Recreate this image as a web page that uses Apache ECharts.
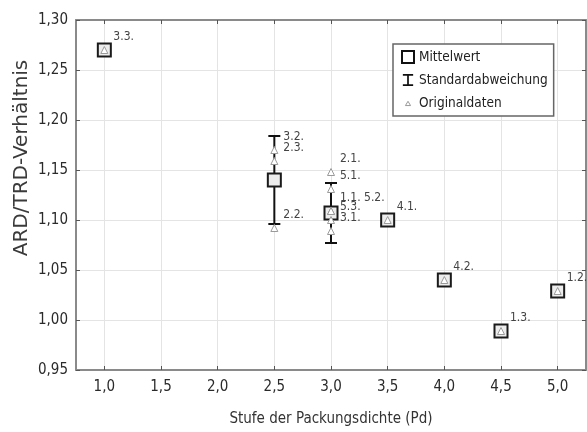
<!DOCTYPE html>
<html lang="de">
<head>
<meta charset="UTF-8">
<title>ARD/TRD-Verhältnis</title>
<script src="https://cdn.jsdelivr.net/npm/echarts@6/dist/echarts.min.js"></script>
<style>
  html, body { margin: 0; padding: 0; background: #fff; }
  #chart { width: 587px; height: 432px; }
</style>
</head>
<body>
<div id="chart"></div>
<script>
// Mittelwerte je Stufe
const meanX = [1.0, 2.5, 3.0, 3.5, 4.0, 4.5, 5.0];
const meanY = [1.27, 1.14, 1.107, 1.10, 1.04, 0.989, 1.029];

// Standardabweichung (nur Stufen mit mehreren Werten)
const sdX = [2.5, 3.0];
const sdLow = [1.096, 1.077];
const sdHigh = [1.184, 1.137];

// Originaldaten mit Bezeichnung
const origNames = ['3.3.', '3.2.', '2.3.', '2.2.', '2.1.', '5.1.', '1.1.', '5.2.', '5.3.', '3.1.', '4.1.', '4.2.', '1.3.', '1.2.'];
const origX = [1.0, 2.5, 2.5, 2.5, 3.0, 3.0, 3.0, 3.0, 3.0, 3.0, 3.5, 4.0, 4.5, 5.0];
const origY = [1.27, 1.17, 1.159, 1.092, 1.148, 1.131, 1.109, 1.109, 1.10, 1.089, 1.10, 1.04, 0.989, 1.029];

// Achsenbeschriftung
const xTicks = [1.0, 1.5, 2.0, 2.5, 3.0, 3.5, 4.0, 4.5, 5.0];

const FONT = '"DejaVu Sans Condensed", "Liberation Sans Narrow", "DejaVu Sans", sans-serif';
const comma = (v, d) => v.toFixed(d).replace('.', ',');

// gleiche Punkte bekommen eine gemeinsame Beschriftung
const seen = {};
const origData = origX.map((x, i) => {
  const key = x + '_' + origY[i];
  let label = origNames[i];
  if (seen[key] !== undefined) {
    seen[key].text += ' ' + origNames[i];
    label = '';
  }
  const item = { value: [x, origY[i]], text: label };
  if (label) seen[key] = item;
  return item;
});

const chart = echarts.init(document.getElementById('chart'));

const gridLine = { show: true, lineStyle: { color: '#e4e4e4', width: 1 } };
const axisLine = { show: true, lineStyle: { color: '#8a8a8a', width: 2 } };
const tickIn = { show: true, inside: true, length: 4, lineStyle: { color: '#555', width: 1 } };

chart.setOption({
  animation: false,
  backgroundColor: '#fff',
  textStyle: { fontFamily: FONT },
  grid: { left: 76, top: 20, right: 1, bottom: 62, containLabel: false },
  xAxis: [{
    type: 'value', min: 0.75, max: 5.25, position: 'bottom',
    name: 'Stufe der Packungsdichte (Pd)', nameLocation: 'middle', nameGap: 42,
    nameTextStyle: { fontFamily: FONT, fontSize: 15, color: '#333' },
    axisLine: axisLine,
    axisTick: Object.assign({ customValues: xTicks }, tickIn),
    axisLabel: { customValues: xTicks, formatter: v => comma(v, 1), fontFamily: FONT, fontSize: 15, color: '#2a2a2a', margin: 10 },
    splitLine: gridLine
  }, {
    type: 'value', min: 0.75, max: 5.25, position: 'top',
    axisLine: axisLine,
    axisTick: Object.assign({ customValues: xTicks }, tickIn),
    axisLabel: { show: false }, splitLine: { show: false }
  }],
  yAxis: [{
    type: 'value', min: 0.95, max: 1.30, interval: 0.05,
    axisLine: axisLine, axisTick: tickIn,
    axisLabel: { formatter: v => comma(v, 2), fontFamily: FONT, fontSize: 15, color: '#2a2a2a', margin: 8 },
    splitLine: gridLine
  }, {
    type: 'value', min: 0.95, max: 1.30, interval: 0.05, position: 'right',
    axisLine: axisLine, axisTick: tickIn,
    axisLabel: { show: false }, splitLine: { show: false }
  }],
  legend: {
    orient: 'vertical', left: 393, top: 44,
    padding: [6, 6, 6, 8], itemGap: 9, itemWidth: 12, itemHeight: 12,
    backgroundColor: '#fff', borderColor: '#666', borderWidth: 1.5, borderRadius: 0,
    textStyle: { fontFamily: FONT, fontSize: 13.5, color: '#222' },
    data: [
      { name: 'Mittelwert', icon: 'rect', itemStyle: { color: '#fff', borderColor: '#111', borderWidth: 2 } },
      { name: 'Standardabweichung', icon: 'path://M0,0h12v2h-12zM5,2h2v10h-2zM0,12h12v2h-12z', itemStyle: { color: '#111', borderWidth: 0 } },
      { name: 'Originaldaten', icon: 'path://M0,0M14,14M7,5L10,10L4,10Z', itemStyle: { color: '#fff', borderColor: '#999', borderWidth: 1 } }
    ]
  },
  graphic: [{
    type: 'text', x: 22, y: 158, rotation: Math.PI / 2,
    style: { text: 'ARD/TRD-Verhältnis', font: '20px "DejaVu Sans", sans-serif', fill: '#3a3a3a', align: 'center', verticalAlign: 'middle' }
  }],
  series: [{
    name: 'Standardabweichung', type: 'custom', z: 2,
    data: sdX.map((x, i) => [x, sdLow[i], sdHigh[i]]),
    renderItem: (params, api) => {
      const lo = api.coord([api.value(0), api.value(1)]);
      const hi = api.coord([api.value(0), api.value(2)]);
      const w = 6;
      const style = { stroke: '#111', lineWidth: 2 };
      return {
        type: 'group',
        children: [
          { type: 'line', shape: { x1: lo[0], y1: lo[1], x2: hi[0], y2: hi[1] }, style },
          { type: 'line', shape: { x1: lo[0] - w, y1: lo[1], x2: lo[0] + w, y2: lo[1] }, style },
          { type: 'line', shape: { x1: hi[0] - w, y1: hi[1], x2: hi[0] + w, y2: hi[1] }, style }
        ]
      };
    }
  }, {
    name: 'Mittelwert', type: 'scatter', z: 3,
    symbol: 'rect', symbolSize: 13,
    itemStyle: { color: '#ececec', borderColor: '#1a1a1a', borderWidth: 2, opacity: 1 },
    data: meanX.map((x, i) => [x, meanY[i]])
  }, {
    name: 'Originaldaten', type: 'scatter', z: 4,
    symbol: 'triangle', symbolSize: 7,
    itemStyle: { color: '#fff', borderColor: '#9a9a9a', borderWidth: 1, opacity: 1 },
    label: {
      show: true, position: [13, -9], align: 'left', verticalAlign: 'middle',
      formatter: p => p.data.text, fontFamily: FONT, fontSize: 12, color: '#444'
    },
    labelLayout: { hideOverlap: false },
    data: origData
  }]
});
</script>
</body>
</html>
